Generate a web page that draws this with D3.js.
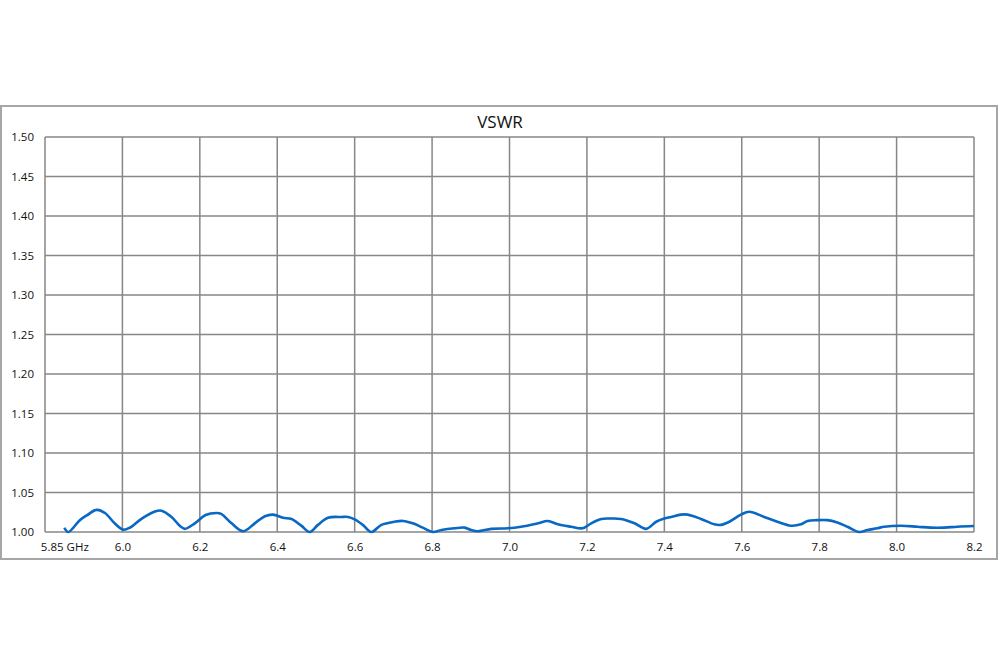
<!DOCTYPE html>
<html>
<head>
<meta charset="utf-8">
<script src="https://cdn.jsdelivr.net/npm/d3@7"></script>
<style>
  body { margin: 0; background: #fff; }
  text { font-family: "Open Sans", "DejaVu Sans", sans-serif; fill: #111; }
</style>
</head>
<body>
<div id="visContainer"></div>
<script>
// frequency in GHz
const freq = [5.85, 5.86, 5.89, 5.908, 5.933, 5.955, 5.98, 6.002, 6.019, 6.05, 6.084, 6.101, 6.127, 6.148, 6.161,
  6.187, 6.215, 6.243, 6.255, 6.282, 6.312, 6.342, 6.368, 6.389, 6.415, 6.437, 6.462, 6.484, 6.505, 6.531, 6.566,
  6.583, 6.6, 6.621, 6.643, 6.669, 6.703, 6.725, 6.75, 6.776, 6.802, 6.824, 6.858, 6.884, 6.901, 6.918, 6.953,
  6.996, 7.03, 7.073, 7.099, 7.125, 7.159, 7.189, 7.211, 7.237, 7.262, 7.288, 7.323, 7.353, 7.379, 7.4, 7.417,
  7.443, 7.46, 7.495, 7.529, 7.546, 7.568, 7.598, 7.619, 7.658, 7.692, 7.727, 7.753, 7.77, 7.795, 7.821, 7.847,
  7.873, 7.903, 7.925, 7.95, 7.968, 8.011, 8.054, 8.088, 8.123, 8.157, 8.2];
const vswr = [1.0054, 1.000, 1.015, 1.021, 1.028, 1.024, 1.011, 1.003, 1.0054, 1.017, 1.026, 1.027, 1.019, 1.008, 1.004,
  1.011, 1.0215, 1.024, 1.023, 1.011, 1.001, 1.011, 1.020, 1.022, 1.018, 1.0165, 1.008, 1.000, 1.009, 1.018, 1.019,
  1.019, 1.016, 1.009, 1.000, 1.009, 1.013, 1.014, 1.011, 1.0055, 1.000, 1.0025, 1.0047, 1.0055, 1.0025, 1.001, 1.004,
  1.0047, 1.0067, 1.011, 1.014, 1.0097, 1.0067, 1.0047, 1.011, 1.0165, 1.017, 1.0165, 1.011, 1.004, 1.013, 1.017, 1.019,
  1.022, 1.022, 1.0165, 1.0097, 1.009, 1.013, 1.022, 1.0257, 1.019, 1.013, 1.008, 1.0097, 1.014, 1.015, 1.015, 1.012,
  1.0067, 1.000, 1.0025, 1.0047, 1.0067, 1.008, 1.0067, 1.0055, 1.0055, 1.0067, 1.0075];

const xTicks = [5.85, 6.0, 6.2, 6.4, 6.6, 6.8, 7.0, 7.2, 7.4, 7.6, 7.8, 8.0, 8.2];
const xTickLabels = ["5.85 GHz", "6.0", "6.2", "6.4", "6.6", "6.8", "7.0", "7.2", "7.4", "7.6", "7.8", "8.0", "8.2"];
const xGrid = [5.8, 6.0, 6.2, 6.4, 6.6, 6.8, 7.0, 7.2, 7.4, 7.6, 7.8, 8.0, 8.2];
const yTicks = [1.00, 1.05, 1.10, 1.15, 1.20, 1.25, 1.30, 1.35, 1.40, 1.45, 1.50];

const width = 1000;
const height = 667;
const plot = { left: 45, right: 974, top: 137, bottom: 532 };

const svg = d3.select("#visContainer")
  .append("svg")
  .attr("width", width)
  .attr("height", height);

// outer frame
svg.append("rect")
  .attr("x", 1).attr("y", 106)
  .attr("width", 996).attr("height", 453)
  .attr("fill", "none")
  .attr("stroke", "#a6a6a6")
  .attr("stroke-width", 2);

const x = d3.scaleLinear().domain([5.8, 8.2]).range([plot.left, plot.right]);
const y = d3.scaleLinear().domain([1.0, 1.5]).range([plot.bottom, plot.top]);

// grid
svg.append("g")
  .selectAll("line.h")
  .data(yTicks)
  .join("line")
  .attr("x1", plot.left).attr("x2", plot.right)
  .attr("y1", (d) => y(d)).attr("y2", (d) => y(d))
  .attr("stroke", "#878787")
  .attr("stroke-width", 1.5);

svg.append("g")
  .selectAll("line.v")
  .data(xGrid)
  .join("line")
  .attr("x1", (d) => x(d)).attr("x2", (d) => x(d))
  .attr("y1", plot.top).attr("y2", plot.bottom)
  .attr("stroke", "#878787")
  .attr("stroke-width", 1.5);

// axes (labels only)
const yAxis = svg.append("g")
  .attr("transform", `translate(${plot.left - 11}, 0)`)
  .call(d3.axisLeft(y).tickValues(yTicks).tickFormat(d3.format(".2f")).tickSize(0).tickPadding(0));
yAxis.select(".domain").remove();
yAxis.selectAll("text").style("font-size", "11.5px").style("font-family", "'Open Sans', sans-serif").attr("fill", "#111");

const xAxis = svg.append("g")
  .attr("transform", `translate(0, ${plot.bottom + 11})`)
  .call(d3.axisBottom(x).tickValues(xTicks).tickFormat((d, i) => xTickLabels[i]).tickSize(0).tickPadding(0));
xAxis.select(".domain").remove();
xAxis.selectAll("text").style("font-size", "11.5px").style("font-family", "'Open Sans', sans-serif").attr("fill", "#111");

// title
svg.append("text")
  .attr("x", 500)
  .attr("y", 128)
  .attr("text-anchor", "middle")
  .style("font-size", "17px")
  .text("VSWR");

// curve
const pts = freq.map((f, i) => [f, vswr[i]]);
svg.append("path")
  .datum(pts)
  .attr("fill", "none")
  .attr("stroke", "#0868c4")
  .attr("stroke-width", 2.6)
  .attr("stroke-linejoin", "round")
  .attr("d", d3.line().x((d) => x(d[0])).y((d) => y(d[1])).curve(d3.curveCatmullRom.alpha(0.5)));
</script>
</body>
</html>
